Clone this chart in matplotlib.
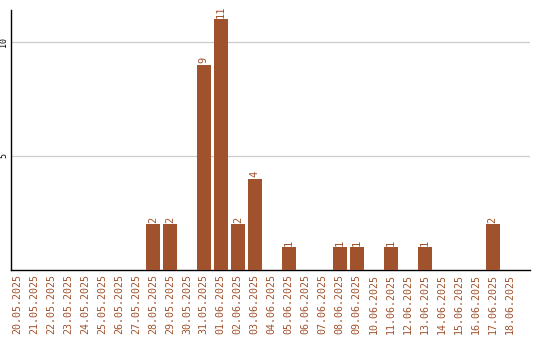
import matplotlib
matplotlib.use('Agg')
import matplotlib.pyplot as plt

# daily counts
dates = ['20.05.2025', '21.05.2025', '22.05.2025', '23.05.2025', '24.05.2025',
         '25.05.2025', '26.05.2025', '27.05.2025', '28.05.2025', '29.05.2025',
         '30.05.2025', '31.05.2025', '01.06.2025', '02.06.2025', '03.06.2025',
         '04.06.2025', '05.06.2025', '06.06.2025', '07.06.2025', '08.06.2025',
         '09.06.2025', '10.06.2025', '11.06.2025', '12.06.2025', '13.06.2025',
         '14.06.2025', '15.06.2025', '16.06.2025', '17.06.2025', '18.06.2025']
counts = [0, 0, 0, 0, 0, 0, 0, 0, 2, 2,
          0, 9, 11, 2, 4, 0, 1, 0, 0, 1,
          1, 0, 1, 0, 1, 0, 0, 0, 2, 0]
y_ticks = [5, 10]

bar_color = '#a0522d'

fig = plt.figure(figsize=(5.4, 3.4), dpi=100)
ax = fig.add_axes([11 / 540, 70 / 340, 519 / 540, 260 / 340])

x = list(range(len(dates)))
ax.bar(x, counts, width=0.82, color=bar_color, zorder=3)

for xi, c in zip(x, counts):
    if c > 0:
        ax.text(xi, c + 0.06, str(c), rotation=90, ha='center', va='bottom',
                color=bar_color, fontsize=7.5, family='DejaVu Sans Mono')

ax.set_xlim(-0.35, 30.2)
ax.set_ylim(0, 11.4)
ax.set_yticks(y_ticks)
ax.set_yticklabels([str(t) for t in y_ticks], rotation=90, va='center',
                   fontsize=6, family='DejaVu Sans Mono')
ax.set_xticks(x)
ax.set_xticklabels(dates, rotation=90, fontsize=7.2, color=bar_color,
                   family='DejaVu Sans Mono')
ax.tick_params(axis='both', length=0, pad=3)
ax.tick_params(axis='y', pad=2)

ax.grid(axis='y', color='#cccccc', linewidth=0.9, zorder=0)
for side in ['top', 'right']:
    ax.spines[side].set_visible(False)
for side in ['left', 'bottom']:
    ax.spines[side].set_color('black')
    ax.spines[side].set_linewidth(1.0)

fig.savefig('out.png', dpi=100)
